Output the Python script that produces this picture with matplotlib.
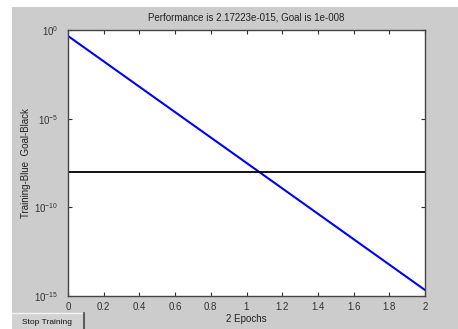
import matplotlib
matplotlib.use("Agg")
import matplotlib.pyplot as plt
from matplotlib.patches import Rectangle
from matplotlib.lines import Line2D

epochs = [0, 1, 2]
performance = [0.46, 3.2e-8, 2.17223e-15]
goal = 1e-8
xticks = [0, 0.2, 0.4, 0.6, 0.8, 1, 1.2, 1.4, 1.6, 1.8, 2]
xticklabels = ["0", "0.2", "0.4", "0.6", "0.8", "1", "1.2", "1.4", "1.6", "1.8", "2"]
yticks = [1e0, 1e-5, 1e-10, 1e-15]
yticklabels = [r"$10^{0}$", r"$10^{-5}$", r"$10^{-10}$", r"$10^{-15}$"]

plt.rcParams['font.family'] = ['Liberation Sans', 'DejaVu Sans']
plt.rcParams['mathtext.fontset'] = 'custom'
plt.rcParams['mathtext.rm'] = 'Liberation Sans'
plt.rcParams['mathtext.it'] = 'Liberation Sans'

W, H = 458, 329
fig = plt.figure(figsize=(W/100, H/100), dpi=100, facecolor='white')
bg = Rectangle((12/W, 0), 1 - 12/W, (H - 7)/H, transform=fig.transFigure,
               facecolor='#cccccc', edgecolor='none', zorder=-10)
fig.add_artist(bg)

ax = fig.add_axes([68/W, 1 - 296/H, (425 - 68)/W, (296 - 30)/H])
ax.set_zorder(5)
ax.set_facecolor('white')
ax.semilogy(epochs, performance, color='#0000ff', lw=1.5)
ax.axhline(goal, color='black', lw=1.3)
ax.set_xlim(0, 2)
ax.set_ylim(1e-15, 1e0)
ax.set_xticks(xticks)
ax.set_xticklabels(xticklabels)
ax.set_yticks(yticks)
ax.set_yticklabels(yticklabels)
ax.minorticks_off()
ax.tick_params(axis='x', direction='in', length=3, width=0.8, labelsize=7, colors='#333333',
               top=True, pad=4)
ax.tick_params(axis='y', direction='in', length=3, width=0.8, labelsize=7, colors='#333333',
               right=True, pad=7)
for s in ax.spines.values():
    s.set_color('#444444')
    s.set_linewidth(1.0)
ax.set_title("Performance is 2.17223e-015, Goal is 1e-008", fontsize=7, color='#222222', pad=7)
ax.set_xlabel("2 Epochs", fontsize=7, color='#222222', labelpad=2)
ax.set_ylabel("Training-Blue  Goal-Black", fontsize=7, color='#222222', labelpad=2)

# Stop Training button
btn = Rectangle((12/W, 0), 71/W, 16/H, transform=fig.transFigure,
                facecolor='#d2d2d2', edgecolor='none', zorder=6)
fig.add_artist(btn)
fig.add_artist(Line2D([12/W, 83/W], [16/H, 16/H], transform=fig.transFigure,
                      color='#f2f2f2', lw=1, zorder=7))
fig.add_artist(Line2D([83.5/W, 83.5/W], [0, 16/H], transform=fig.transFigure,
                      color='#444444', lw=1.2, zorder=7))
fig.text(47/W, 7/H, "Stop Training", fontsize=6, ha='center', va='center', color='#111111', zorder=8)

fig.savefig("out.png", dpi=100, facecolor=fig.get_facecolor())
